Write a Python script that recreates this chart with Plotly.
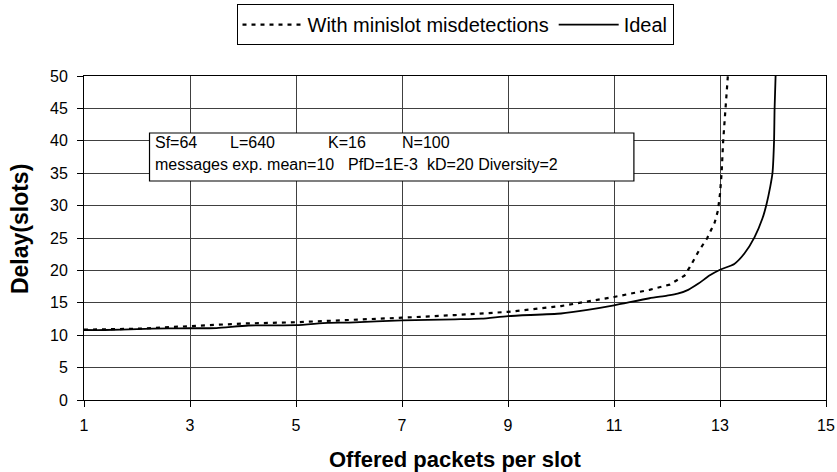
import plotly.graph_objects as go

# ---- data ----
x_ideal = [1, 1.4, 2, 2.6, 3, 3.5, 4.1, 5, 5.6, 6, 7, 8, 8.5, 9, 10, 10.5, 11,
           11.67, 12, 12.2, 12.4, 12.6, 12.8, 13, 13.27, 13.46, 13.65, 13.8, 13.88,
           13.95, 13.99, 14.02, 14.03, 14.05]
y_ideal = [10.8, 10.8, 10.95, 11.05, 11.07, 11.1, 11.5, 11.55, 11.9, 11.95, 12.3,
           12.45, 12.55, 12.95, 13.35, 13.9, 14.6, 15.7, 16.1, 16.4, 17.0, 18.0, 19.2,
           20.1, 21.0, 22.6, 25.1, 28.0, 30.3, 33.0, 35.0, 40.0, 45.0, 50.3]

x_mis = [1, 2, 3, 4, 5, 6, 7, 8, 9, 10, 11, 11.67, 12.05, 12.33, 12.43, 12.6,
         12.76, 12.9, 12.96, 13.0, 13.03, 13.06, 13.1, 13.15]
y_mis = [10.85, 11.0, 11.4, 11.8, 12.0, 12.3, 12.7, 13.1, 13.6, 14.5, 15.9, 17.0,
         17.8, 19.2, 20.5, 23.0, 25.0, 27.4, 29.2, 31.8, 35.0, 40.0, 45.0, 50.2]

x_ticks = [1, 3, 5, 7, 9, 11, 13, 15]
y_ticks = [0, 5, 10, 15, 20, 25, 30, 35, 40, 45, 50]

series_names = ["With minislot misdetections", "Ideal"]
x_title = "Offered packets per slot"
y_title = "Delay(slots)"
note_line1 = ["Sf=64", "L=640", "K=16", "N=100"]
note_line2 = ["messages exp. mean=10", "PfD=1E-3", "kD=20 Diversity=2"]

FONT = "Liberation Sans, Arial, sans-serif"

fig = go.Figure()
fig.add_trace(go.Scatter(x=x_mis, y=y_mis, mode="lines", name=series_names[0],
                         line=dict(color="black", width=2.2, dash="4px,5px")))
fig.add_trace(go.Scatter(x=x_ideal, y=y_ideal, mode="lines", name=series_names[1],
                         line=dict(color="black", width=1.8, shape="spline", smoothing=0.6)))

grid = "#404040"
fig.update_xaxes(range=[1, 15], tickvals=x_ticks, ticktext=[str(v) for v in x_ticks],
                 showgrid=True, gridcolor=grid, gridwidth=1,
                 showline=True, linecolor="black", linewidth=1, mirror=True,
                 ticks="outside", ticklen=6, tickcolor="black",
                 tickfont=dict(family=FONT, size=16, color="black"),
                 ticklabelstandoff=5, zeroline=False, automargin=False)
fig.update_yaxes(range=[0, 50], tickvals=y_ticks, ticktext=[str(v) for v in y_ticks],
                 showgrid=True, gridcolor=grid, gridwidth=1,
                 showline=True, linecolor="black", linewidth=1, mirror=True,
                 ticks="outside", ticklen=6, tickcolor="black",
                 tickfont=dict(family=FONT, size=16, color="black"),
                 ticklabelstandoff=6, zeroline=False, automargin=False)

# parameter box
fig.add_shape(type="rect", xref="paper", yref="paper",
              x0=0.0883, x1=0.7411, y0=0.676, y1=0.824,
              line=dict(color="black", width=1.2), fillcolor="white", layer="above")

ann = []
for txt, xp in zip(note_line1, [0.0924, 0.1935, 0.3257, 0.4255]):
    ann.append(dict(text=txt, x=xp, y=0.796, xref="paper", yref="paper",
                    xanchor="left", yanchor="middle", showarrow=False,
                    font=dict(family=FONT, size=16, color="black")))
for txt, xp in zip(note_line2, [0.0924, 0.3527, 0.4592]):
    ann.append(dict(text=txt, x=xp, y=0.728, xref="paper", yref="paper",
                    xanchor="left", yanchor="middle", showarrow=False,
                    font=dict(family=FONT, size=16, color="black")))
ann.append(dict(text="<b>%s</b>" % x_title, x=0.5003, y=-0.183, xref="paper", yref="paper",
                xanchor="center", yanchor="middle", showarrow=False,
                font=dict(family=FONT, size=22, color="black")))
ann.append(dict(text="<b>%s</b>" % y_title, x=-0.087, y=0.529, xref="paper", yref="paper",
                xanchor="center", yanchor="middle", showarrow=False, textangle=-90,
                font=dict(family=FONT, size=23, color="black")))

fig.update_layout(
    width=837, height=472,
    margin=dict(l=84, r=11, t=76, b=72, autoexpand=False),
    paper_bgcolor="white", plot_bgcolor="white",
    annotations=ann,
    showlegend=True,
    legend=dict(orientation="h", x=0.5, xanchor="center", y=1.222, yanchor="top",
                bordercolor="black", borderwidth=1, bgcolor="white",
                font=dict(family=FONT, size=20, color="black"),
                itemwidth=60, tracegroupgap=0),
)

fig.write_html("out.html")
